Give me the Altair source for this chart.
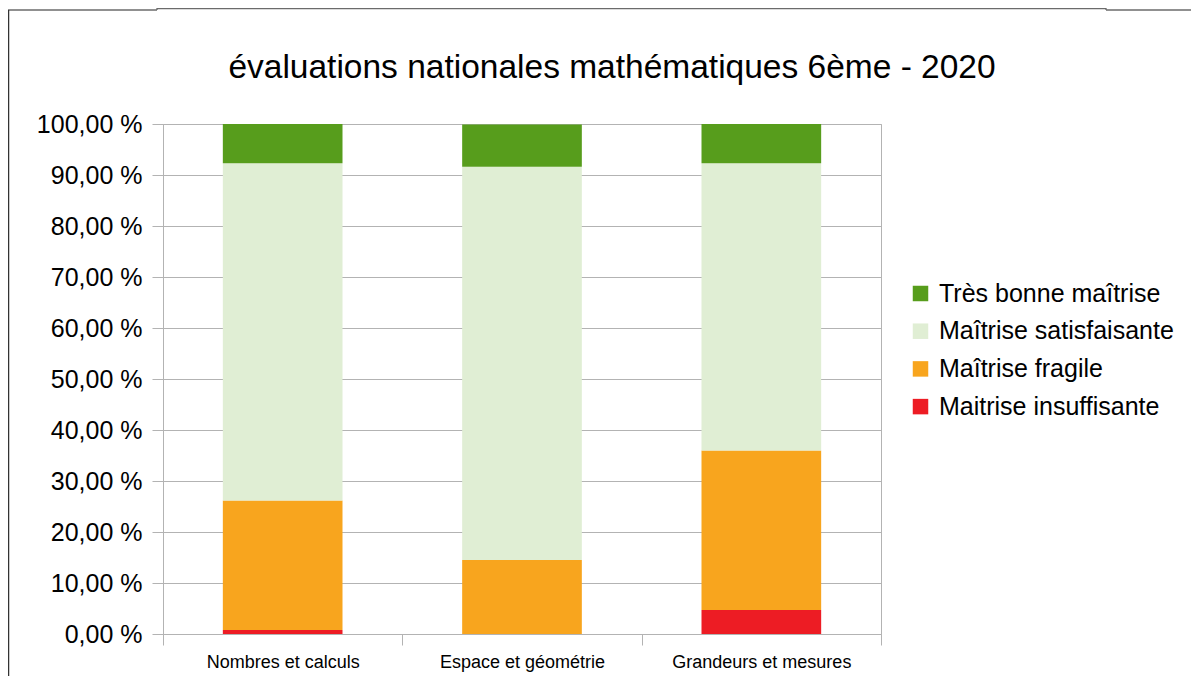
import altair as alt
import pandas as pd

categories = ["Nombres et calculs", "Espace et géométrie", "Grandeurs et mesures"]
levels = ["Maitrise insuffisante", "Maîtrise fragile", "Maîtrise satisfaisante", "Très bonne maîtrise"]
insuffisante = [0.8, 0.0, 4.7]
fragile = [25.4, 14.5, 31.3]
satisfaisante = [66.1, 77.1, 56.3]
tres_bonne = [7.7, 8.3, 7.7]
level_colors = ["#ED1C24", "#F8A51E", "#E0EED4", "#579D1C"]
title_text = "évaluations nationales mathématiques 6ème - 2020"

series = [insuffisante, fragile, satisfaisante, tres_bonne]
rows = []
for rank, (lvl, vals) in enumerate(zip(levels, series)):
    for cat, v in zip(categories, vals):
        rows.append({"cat": cat, "level": lvl, "value": v, "rank": rank})
df = pd.DataFrame(rows)

FONT = "Liberation Sans"
GRID = "#b3b3b3"

legend_domain = levels[::-1]
legend_range = level_colors[::-1]

bars = alt.Chart(df).mark_bar(width=alt.RelativeBandSize(0.5)).encode(
    x=alt.X("cat:N", sort=categories, title=None,
            scale=alt.Scale(paddingInner=0, paddingOuter=0),
            axis=alt.Axis(labelAngle=0, tickBand="extent", tickSize=11,
                          tickColor=GRID, domainColor=GRID, labelFontSize=18,
                          labelPadding=8, labelColor="#000000", labelFont=FONT,
                          grid=False)),
    y=alt.Y("value:Q", stack="zero", title=None,
            scale=alt.Scale(domain=[0, 100], nice=False),
            axis=alt.Axis(values=list(range(0, 101, 10)),
                          labelExpr="replace(format(datum.value, '.2f'), '.', ',') + ' %'",
                          tickSize=11, tickColor=GRID, domainColor=GRID, gridColor=GRID,
                          labelFontSize=25, labelPadding=10, labelColor="#000000",
                          labelFont=FONT)),
    color=alt.Color("level:N", scale=alt.Scale(domain=legend_domain, range=legend_range),
                    legend=alt.Legend(title=None, orient="none", legendX=745, legendY=157,
                                      symbolType="square", symbolSize=240, symbolStrokeWidth=0,
                                      labelFontSize=25, labelFont=FONT, labelColor="#000000",
                                      labelLimit=400, rowPadding=11.7, labelOffset=6)),
    order=alt.Order("rank:Q", sort="ascending"),
)

frame_df = pd.DataFrame({"k": [0]})
def hrule(x1, x2, y, color):
    return alt.Chart(frame_df).mark_rule(color=color, strokeWidth=1.3).encode(
        x=alt.value(x1), x2=alt.value(x2), y=alt.value(y))
def vrule(x, y1, y2, color):
    return alt.Chart(frame_df).mark_rule(color=color, strokeWidth=1.3).encode(
        x=alt.value(x), y=alt.value(y1), y2=alt.value(y2))

frame = (hrule(-155, -6, -114, "#6b6b6b") + hrule(943, 1040, -114, "#6b6b6b")
         + hrule(-6, 943, -115.4, "#6b6b6b")
         + vrule(-6, -116, -114, "#6b6b6b") + vrule(943, -116, -114, "#6b6b6b")
         + vrule(-154.4, -114, 570, "#333333"))

chart = alt.layer(bars, frame).properties(
    width=718, height=510,
    title=alt.TitleParams(title_text, fontSize=33.5, font=FONT, fontWeight="normal",
                          color="#000000", anchor="middle", dx=90, offset=0, dy=104,
                          baseline="alphabetic"),
    padding={"left": 155, "top": 116, "right": 310, "bottom": 42},
    autosize=alt.AutoSizeParams(type="none"),
).configure_view(stroke=GRID, strokeWidth=1)

chart.save("out.html", embed_options={"renderer": "svg", "actions": False})
